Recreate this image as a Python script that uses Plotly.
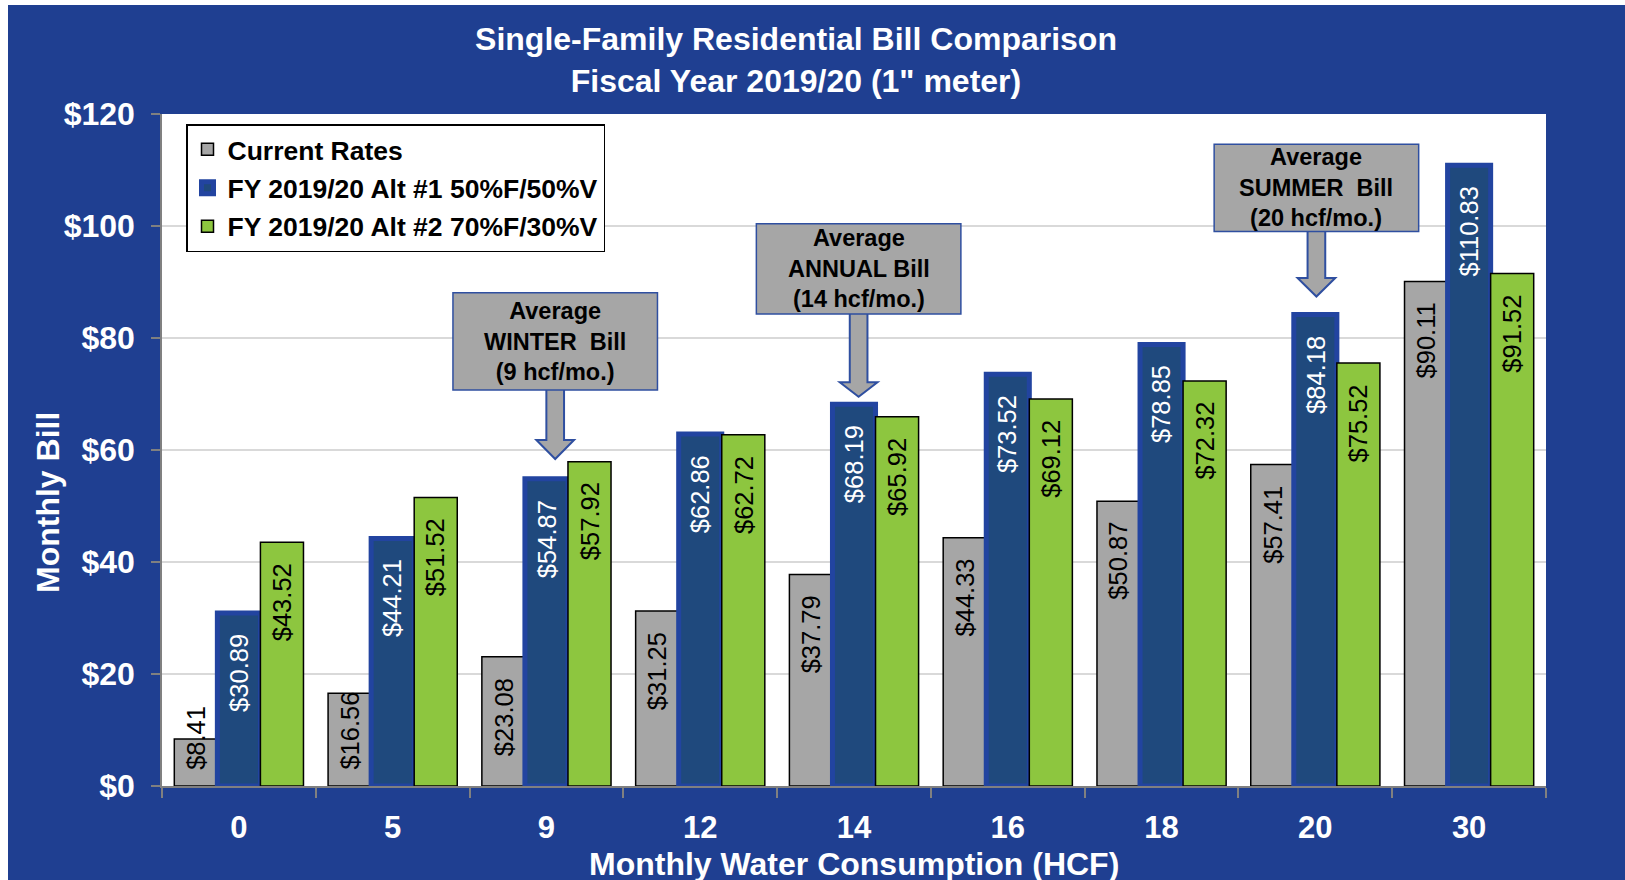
import plotly.graph_objects as go

# ---------------- data ----------------
consumption = ["0", "5", "9", "12", "14", "16", "18", "20", "30"]
current_rates = [8.41, 16.56, 23.08, 31.25, 37.79, 44.33, 50.87, 57.41, 90.11]
alt1_rates = [30.89, 44.21, 54.87, 62.86, 68.19, 73.52, 78.85, 84.18, 110.83]
alt2_rates = [43.52, 51.52, 57.92, 62.72, 65.92, 69.12, 72.32, 75.52, 91.52]
series_names = ["Current Rates", "FY 2019/20 Alt #1 50%F/50%V", "FY 2019/20 Alt #2 70%F/30%V"]

callout_texts = ["Average<br>WINTER  Bill<br>(9 hcf/mo.)",
                 "Average<br>ANNUAL Bill<br>(14 hcf/mo.)",
                 "Average<br>SUMMER  Bill<br>(20 hcf/mo.)"]
callout_x = [2.057, 4.03, 7.007]          # category index position
callout_box_top = [88.1, 100.4, 114.6]
callout_box_bottom = [70.7, 84.3, 99.0]
callout_head = [61.8, 72.1, 90.7]
callout_tip = [58.4, 69.5, 87.4]

# ---------------- layout constants ----------------
W, H = 1625, 880
ML, MR, MT, MB = 162, 79, 114, 94
PW, PH = W - ML - MR, H - MT - MB
BG = "#1F3F91"
FONT = "Liberation Sans, Arial, sans-serif"
GRAY, BLUE, BLUE_EDGE, GREEN = "#A6A6A6", "#1F497D", "#2244A0", "#8DC63F"
BARGAP = 0.16


def pxx(px):
    return (px - ML) / PW


def pxy(py):
    return (H - MB - py) / PH


fig = go.Figure()
values = [current_rates, alt1_rates, alt2_rates]
fills = [GRAY, BLUE, GREEN]
edges = ["#000000", BLUE_EDGE, "#000000"]
edge_w = [1.5, 5, 1.5]
text_cols = ["#000000", "#FFFFFF", "#000000"]

for k in range(3):
    fig.add_trace(go.Bar(
        x=consumption, y=values[k], name=series_names[k], legendgroup=f"g{k}",
        marker=dict(color=fills[k], line=dict(color=edges[k], width=edge_w[k])),
        hoverinfo="skip",
    ))

annotations = []
slot = (1 - BARGAP) / 3
for k in range(3):
    for i, v in enumerate(values[k]):
        xpos = i + (k - 1) * slot
        if v >= 20:
            y, ya, ys = v, "top", -19
        else:
            y, ya, ys = 0, "bottom", 14
        annotations.append(dict(
            x=xpos, y=y, xref="x", yref="y", text=f"${v:.2f}", showarrow=False,
            textangle=-90, xanchor="center", yanchor=ya, yshift=ys,
            font=dict(family=FONT, size=25.5, color=text_cols[k]),
        ))

shapes = []
# white margin strips (left / top)
shapes.append(dict(type="rect", xref="paper", yref="paper", x0=pxx(-5), x1=pxx(8),
                   y0=pxy(H + 5), y1=pxy(-5), fillcolor="white", line=dict(width=0), layer="above"))
shapes.append(dict(type="rect", xref="paper", yref="paper", x0=pxx(-5), x1=pxx(W + 5),
                   y0=pxy(5), y1=pxy(-5), fillcolor="white", line=dict(width=0), layer="above"))

SW, HW = 0.115, 0.245   # arrow shaft/head width in category units
BOXW = 1.33
for j in range(3):
    cx = callout_x[j]
    yb, yh, yt = callout_box_bottom[j], callout_head[j], callout_tip[j]
    path = (f"M {cx - SW/2},{yb + 1} L {cx - SW/2},{yh} L {cx - HW/2},{yh} L {cx},{yt} "
            f"L {cx + HW/2},{yh} L {cx + SW/2},{yh} L {cx + SW/2},{yb + 1} Z")
    shapes.append(dict(type="path", xref="x", yref="y", path=path, fillcolor=GRAY,
                       line=dict(color="#2F4FA0", width=2), layer="above"))
    shapes.append(dict(type="rect", xref="x", yref="y", x0=cx - BOXW/2, x1=cx + BOXW/2,
                       y0=yb, y1=callout_box_top[j], fillcolor=GRAY,
                       line=dict(color="#2F4FA0", width=1.5), layer="above"))
    annotations.append(dict(
        x=cx, y=(yb + callout_box_top[j]) / 2, xref="x", yref="y", text=callout_texts[j],
        showarrow=False, xanchor="center", yanchor="middle",
        font=dict(family=FONT, size=23.5, color="#000000", weight="bold"),
    ))

# axis titles
annotations.append(dict(x=pxx(48), y=pxy(503), xref="paper", yref="paper", text="Monthly Bill",
                        textangle=-90, showarrow=False, xanchor="center", yanchor="middle",
                        font=dict(family=FONT, size=32, color="white", weight="bold")))
annotations.append(dict(x=pxx(854), y=pxy(864), xref="paper", yref="paper",
                        text="Monthly Water Consumption (HCF)", showarrow=False,
                        xanchor="center", yanchor="middle",
                        font=dict(family=FONT, size=32, color="white", weight="bold")))

fig.update_layout(
    width=W, height=H,
    margin=dict(l=ML, r=MR, t=MT, b=MB, pad=0),
    paper_bgcolor=BG, plot_bgcolor="white",
    barmode="group", bargap=BARGAP, bargroupgap=0,
    title=dict(text="Single-Family Residential Bill Comparison<br>Fiscal Year 2019/20 (1\" meter)",
               x=796 / W, xref="container", xanchor="center",
               y=1 - 50 / H, yref="container", yanchor="top",
               font=dict(family=FONT, size=32, color="white", weight="bold")),
    legend=dict(x=pxx(186), y=pxy(124), xanchor="left", yanchor="top",
                bgcolor="white", bordercolor="black", borderwidth=1.5,
                font=dict(family=FONT, size=26.5, color="black", weight="bold"),
                traceorder="grouped", tracegroupgap=1,
                itemclick=False, itemdoubleclick=False),
    xaxis=dict(type="category", tickson="boundaries", ticks="outside", ticklen=10,
               tickcolor="#808080", tickwidth=1.5, showline=True, linecolor="#808080",
               linewidth=1.5, showgrid=False,
               tickfont=dict(family=FONT, size=31, color="white", weight="bold"),
               ticklabelstandoff=13),
    yaxis=dict(range=[0, 120], dtick=20, tickprefix="$", ticks="outside", ticklen=9,
               tickcolor="#808080", tickwidth=1.5, showline=True, linecolor="#808080",
               linewidth=1.5, gridcolor="#D9D9D9", gridwidth=1.5, zeroline=False,
               tickfont=dict(family=FONT, size=32, color="white", weight="bold"),
               ticklabelstandoff=10),
    annotations=annotations, shapes=shapes,
    showlegend=True,
)

fig.write_html("out.html")
